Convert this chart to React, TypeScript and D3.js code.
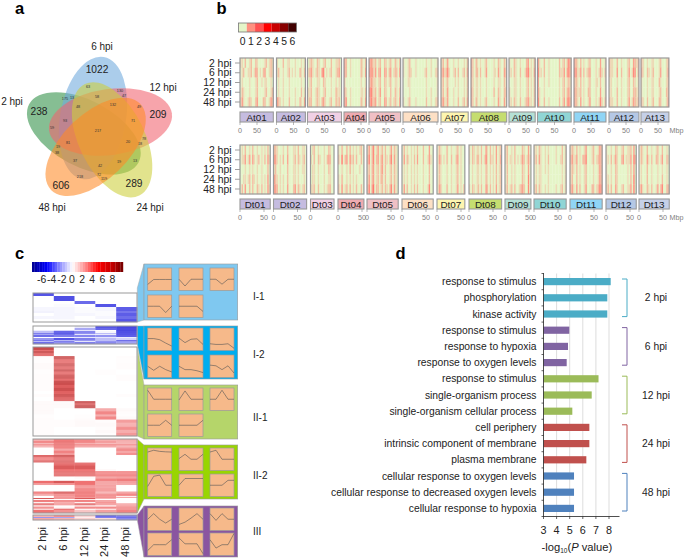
import React from "react";
import * as d3 from "d3";

const FONT = '"Liberation Sans", Arial, sans-serif';
const TXT = "#222";

// ---------- panel a ----------
const vennSets = ["2 hpi", "6 hpi", "12 hpi", "24 hpi", "48 hpi"];
const vennAngles = [-72, 0, 72, 144, 216];
const vennColors = ["#2f8f45", "#6fa9dc", "#f2626f", "#cdcf3a", "#ff8a26"];
const vennSetLabels: [string, number, number][] = [["2 hpi", 12, 105], ["6 hpi", 102, 50], ["12 hpi", 163, 91], ["24 hpi", 150, 211], ["48 hpi", 52, 211]];
const vennBig: [string, number, number][] = [["1022", 97, 73], ["209", 158, 118], ["238", 39, 115], ["606", 61, 189], ["289", 134, 187]];
const vennSmall: [string, number, number][] = [["63", 88, 87], ["130", 120, 91], ["47", 124, 96], ["58", 97, 97], ["132", 113, 105], ["49", 139, 107], ["175", 65, 99], ["13", 72, 98], ["48", 78, 107], ["93", 65, 121], ["71", 133, 121], ["59", 52, 128], ["217", 98, 131], ["81", 68, 143], ["20", 128, 142], ["78", 144, 139], ["18", 140, 144], ["19", 58, 147], ["38", 57, 153], ["37", 75, 161], ["13", 135, 161], ["19", 119, 162], ["42", 100, 166], ["72", 99, 175], ["119", 104, 179], ["218", 80, 177]];

// ---------- panel b ----------
const hpiRows = ["2 hpi", "6 hpi", "12 hpi", "24 hpi", "48 hpi"];
const densityLegend = [0, 1, 2, 3, 4, 5, 6];
const densityColors = ["#e5f5c8", "#ff9080", "#ff5050", "#ff0000", "#c80000", "#880000", "#400000"];
const chrColors = ["#c5bce0", "#c5bce0", "#f0d0e5", "#eeaab0", "#f0c0c5", "#fde0c5", "#fdf5b0", "#c5dd70", "#b5e0d5", "#90d5d5", "#90d5f5", "#b5c8e5", "#c5d0e8"];
const atNames = ["At01", "At02", "At03", "At04", "At05", "At06", "At07", "At08", "At09", "At10", "At11", "At12", "At13"];
const dtNames = ["Dt01", "Dt02", "Dt03", "Dt04", "Dt05", "Dt06", "Dt07", "Dt08", "Dt09", "Dt10", "Dt11", "Dt12", "Dt13"];
const atLengths = [98, 85, 100, 66, 93, 103, 80, 105, 77, 99, 94, 88, 82];
const dtLengths = [63, 69, 49, 54, 65, 65, 58, 68, 54, 67, 67, 63, 63];
const atStarts = [240, 276.5, 307.5, 344, 369, 403, 441, 471, 509, 537.5, 574, 609, 641];
const dtStarts = [240, 273.5, 310.5, 338, 367, 402, 437, 469, 505, 534, 570, 606, 639];
const atDensity: string[][] = [
  ["1102001200210000120121", "0120011201320102300121", "0100001000120010110010", "0210001000120000120012", "1310012100230002200132"],
  ["1000200110001000101", "1200100120101002102", "0100100010000000100", "0100100010001000201", "3210100020001002103"],
  ["0121002100120002001120", "1231012103401012001230", "0120001100210001001010", "1120012100120001002110", "1220012102310012002120"],
  ["320010000002102", "320010000002103", "200000000001001", "310010000001102", "330010000002103"],
  ["332120120021012002102", "433130230032023012203", "232110120021012001101", "442120130021002002102", "342230120032012012103"],
  ["10012000100000010010001", "10012100100000120010012", "00011000000000010000001", "00001000000000010010001", "10012000100000020010012"],
  ["120130001001000102", "231241001202001203", "120120000101000102", "120130001001000102", "231130001002001203"],
  ["310210100120000100210021", "310220200130000110310032", "210110100010000100110021", "310110100010000200210022", "310210100120000100310031"],
  ["10021001000230102", "11021002001341103", "00011001000120102", "10011001000120102", "11021002001231102"],
  ["3100200100000020120242", "4110200100000021130342", "3000100100000010120121", "3100100000000010120231", "4100200100000020130342"],
  ["321020100120001003001", "431130201230001013102", "221020100120001102001", "321120100220001003001", "321030100130001014102"],
  ["21100200100012003212", "21100300200013014302", "11000100100012002101", "11000200100012002211", "21100200100013013212"],
  ["2100100110001200012", "3100210120001300013", "1000100110002100012", "1000100110001200022", "2100200120002200013"],
];
const dtDensity: string[][] = [
  ["01020010200100101020", "01130130310120102031", "00010010100100100020", "00110120210100101030", "02030020200210201031"],
  ["2210001002000110200110", "3310102003000120210120", "1200100002000110100110", "3210101002000110100010", "3320101003000230210120"],
  ["0120010001002100", "1020021001023200", "0110010001002100", "0110010001001100", "1120020001012200"],
  ["1020020201010120", "2040230312020020", "0010010201000100", "1020010101010000", "2030120201020020"],
  ["130240130120200130210", "240240230230210240310", "120230120230200120210", "130230120220200120210", "240350220120210240310"],
  ["020100101020002000300", "030210102030002001310", "010100101010001000200", "010100101010001000200", "030200102020001001400"],
  ["021000200100120100", "032010200200230100", "021000100100120100", "021000100100120100", "032000200100130102"],
  ["1021011020031020103012", "1021022020141021103013", "0010011010021010102012", "0010011010021010102012", "1021012020032020103012"],
  ["12001020000210030", "12011020101320131", "02001010000210030", "02001010000210040", "12012020012320040"],
  ["110210010100001000201", "120310010200001001201", "010110010100000000101", "010110000100000000101", "120210010100001001201"],
  ["121020100130001200132", "231130102240001201232", "121020100120000100132", "120020100120000100132", "231030200130002201243"],
  ["10010021001200112030", "11020131002301113042", "10010021000000102030", "11010021000000102040", "12020031001200113040"],
  ["02100200100120020010", "02100310200220130021", "01000200100010010010", "01000200100010020010", "13100210200130240022"],
];

// ---------- panel c ----------
const columnLabels = ["2 hpi", "6 hpi", "12 hpi", "24 hpi", "48 hpi"];
const exprTicks = [-6, -4, -2, 0, 2, 4, 6, 8];
type Run = [number, number[]];
const block1: Run[] = [[3, [-4, 0, 0, 0, 0]], [5, [0, -4.2, 0, 0, 0]], [3, [0, 0, -3.5, 0, 0]], [3, [0, -0.1, 0, -4, 0]], [4, [-0.2, -0.2, -0.1, -0.2, -3.8]], [2, [-0.3, -0.2, -0.1, -0.1, -3.2]], [3, [0, -0.2, -0.2, -0.1, -3.8]], [3, [-0.2, -0.2, 0, -0.2, -3.4]], [3, [0, -0.1, 0, 0, -4]]];
const block2: Run[] = [[2, [0, 0, -0.5, -4, -4.6]], [2, [0, 0, -2, -3.6, -4.4]], [1, [-0.4, -1, -0.6, 0, -4.5]], [2, [-1.5, -3.6, -2.8, -0.2, -4.2]], [1, [-3, -3.8, -2.5, -1.5, -4]], [1, [-2, -3.4, -0.6, -0.5, -4]], [2, [-3.4, -3, -2.8, -2.5, -3.8]], [1, [0, -0.2, -0.5, -0.6, -0.4]], [2, [-2.4, -4, -3, -1.5, -1]], [1, [-3.2, -1.6, -2.4, -1.5, -3.4]], [1, [-1.5, -3, -0.6, -2.5, -2.4]], [2, [-3.4, -2.6, -3, -2.8, -2.2]]];
const block3: Run[] = [[3, [6.4, 0, 0, 0, 0]], [1, [5, 0, 0, 0, 0]], [2, [6.2, 0, 0, 0, 0]], [3, [5.2, 0, 0, 0, 0]], [3, [0.1, 6.2, 0, 0, 0.1]], [4, [0.1, 5, 0, 0, 0.1]], [3, [0.2, 6, 0, 0, 0.1]], [3, [0.2, 5.2, 0, 0, 0.1]], [2, [0.1, 6.3, 0, 0.1, 0]], [3, [0.1, 5, 0, 0.1, 0]], [4, [0.1, 6, 0, 0, 0.1]], [2, [0.1, 5, 0, 0, 0.1]], [4, [0.1, 6.2, 0, 0, 0]], [3, [0.1, 5.3, 0, 0, 0]], [3, [0.1, 6, 0, 0, 0]], [3, [0, 5.2, 0, 0, 0]], [3, [0.1, 6, 0, 0, 0.1]], [4, [0, 5.4, 0, 0, 0]], [2, [0.2, 0.2, 6.5, 0, 0]], [2, [0.2, 0.2, 5.5, 0, 0]], [3, [0.2, 0.2, 6.6, 0, 0]], [3, [0.2, 0, 0, 3.4, 0.2]], [3, [0.2, 0, 0, 4.5, 0.1]], [2, [0.1, 0, 0.1, 3.2, 0.1]], [3, [0.1, 0, 0.1, 4.4, 0.2]], [3, [0.1, 0.1, 0.2, 0.1, 3.6]], [4, [0.1, 0.1, 0.2, 0.2, 2.8]], [3, [0.1, 0, 0, 0.1, 3.6]], [3, [0.1, 0, 0, 0.2, 2.8]], [3, [0.1, 0, 0, 0.1, 3.4]]];
const block4: Run[] = [[2, [3, 4.4, 4, 3, 3]], [2, [4.2, 4.8, 4.2, 3.6, 3]], [1, [2.6, 4.6, 3, 2.6, 3]], [1, [4.4, 5, 4.4, 4.4, 4.2]], [2, [3, 4.6, 3.4, 3.4, 3]], [1, [0, 4.4, 0, 0, 3.6]], [2, [0, 3.2, 0, 0, 4]], [2, [0, 4, 0, 0, 3]], [2, [0, 3.4, 0, 0, 3.6]], [2, [5.4, 5.8, 0, 0, 0]], [3, [4.2, 5, 0, 0, 0]], [2, [5.4, 5.4, 0, 0, 0]], [3, [0, 5, 5, 0, 0]], [3, [0, 5.4, 5.4, 0, 0]], [2, [0, 4.6, 4.6, 0.2, 0]], [3, [0, 5, 5, 4, 4]], [2, [0, 5.2, 5, 4.4, 4.4]], [2, [0, 0, 0.2, 3.4, 3.6]], [2, [0, 0, 0, 4.2, 4.4]], [2, [4.6, 5.6, 4.4, 3, 3.2]], [2, [3.4, 3.6, 4.4, 3, 3]], [3, [0, 0, 3.6, 3.4, 0]], [3, [0, 0, 4.4, 3.8, 0]], [2, [4.4, 5.6, 4.6, 2.8, 3.4]], [2, [3, 3.6, 4, 3.6, 4]], [1, [0, 3.2, 4, 3.4, 0.4]], [1, [0, 3.4, 3.4, 3.6, 3]], [1, [5.6, 3.4, 5.4, 2.6, 0]], [1, [0, 0, 0.6, 0, 0]], [2, [4.6, 4, 4.4, 3.4, 0]], [1, [0, 3, 0, 4, 0]], [2, [5, 3.6, 5.2, 3.6, 3.2]], [1, [0, 0, 0, 0, 3.4]], [2, [4, 0.4, 4.2, 4.2, 3.8]], [1, [0.6, 5, 0, 0.4, 3.4]], [3, [4.4, 3.6, 2, 3.2, 4]]];
const block5: Run[] = [[2, [2.6, 3.6, 1.4, -3.4, -3]], [1, [-2.4, -2, 0.6, -3, -3.4]], [2, [3, 2.6, 1.6, 1.2, -2.8]]];
const heatBlocks: { runs: Run[]; y0: number; y1: number }[] = [
  { runs: block1, y0: 293, y1: 322 }, { runs: block2, y0: 326, y1: 344 }, { runs: block3, y0: 347, y1: 436 }, { runs: block4, y0: 439, y1: 513 }, { runs: block5, y0: 515, y1: 520 },
];

const clusterNames = ["I-1", "I-2", "II-1", "II-2", "III"];
const clusterFills = ["#7fc8f0", "#00adef", "#b5d56a", "#99d500", "#8a55a0"];
const profiles: number[][][] = [
  [[.27, .49, .49, .49, .49], [.5, .2, .5, .5, .5], [.5, .5, .28, .5, .5], [.5, .5, .5, .22, .5], [.5, .5, .5, .5, .27]],
  [[.53, .53, .48, .33, .2], [.55, .35, .5, .52, .27], [.3, .27, .27, .3, .1], [.5, .32, .5, .35, .25], [.5, .35, .35, .3, .22], [.55, .52, .35, .52, .2]],
  [[.9, .5, .5, .5, .5], [.47, .87, .5, .5, .5], [.5, .5, .9, .5, .5], [.5, .5, .5, .72, .5], [.5, .5, .5, .5, .72]],
  [[.82, .9, .85, .83, .82], [.53, .72, .5, .5, .72], [.82, .9, .5, .5, .5], [.45, .9, .95, .5, .5], [.5, .8, .8, .8, .8], [.5, .5, .5, .72, .72]],
  [[.5, .75, .5, .33, .5], [.27, .37, .55, .75, .5], [.75, .45, .75, .5, .5], [.22, .48, .48, .48, .7], [.78, .52, .52, .52, .08], [.7, .33, .48, .48, .98]],
];
const clusterLayout = [
  { y0: 264, y1: 320, rows: [268, 295], labelY: 300, poly: [[137.3, 288], [144, 264], [144, 320], [137.3, 322]] },
  { y0: 326, y1: 379, rows: [328, 355], labelY: 358, poly: [[137.3, 326], [144, 326], [144, 379], [137.3, 344]] },
  { y0: 385, y1: 439, rows: [388, 414], labelY: 421, poly: [[137.3, 347], [144, 385], [144, 439], [137.3, 436]] },
  { y0: 445, y1: 499, rows: [448, 474], labelY: 479, poly: [[137.3, 439], [144, 445], [144, 499], [137.3, 513]] },
  { y0: 506, y1: 557, rows: [508, 533], labelY: 535, poly: [[137.3, 515], [144, 506], [144, 557], [137.3, 520]] },
];
const miniCols = [147.7, 179, 210];

// ---------- panel d ----------
const goTerms = ["response to stimulus", "phosphorylation", "kinase activity", "response to stimulus", "response to hypoxia", "response to oxygen levels", "response to stimulus", "single-organism process", "single-organism cellular process", "cell periphery", "intrinsic component of membrane", "plasma membrane", "cellular response to oxygen levels", "cellular response to decreased oxygen levels", "cellular response to hypoxia"];
const goValues = [8.13, 7.87, 7.87, 4.97, 4.87, 4.77, 7.2, 6.68, 5.2, 6.5, 6.5, 6.27, 5.33, 5.33, 5.33];
const goGroups = ["2 hpi", "6 hpi", "12 hpi", "24 hpi", "48 hpi"];
const goColors = ["#4bacc6", "#8064a2", "#9bbb59", "#c0504d", "#4f81bd"];
const goTicks = [3, 4, 5, 6, 7, 8];

const densityScale = d3.scaleLinear<string>().domain(densityLegend).range(densityColors);
const exprScale = d3.scaleLinear<string>().domain([-8, -5, -2.5, 0, 2.5, 5, 8, 9.8]).range(["#00008c", "#0000ff", "#8c8cff", "#ffffff", "#ff8c8c", "#ff0000", "#c00000", "#7a0000"]).clamp(true);
const cellScale = d3.scaleLinear<string>().domain([-5, -4, -2, 0, 3, 4.5, 6, 7]).range(["#3c3cdc", "#5555e6", "#a8a8f4", "#ffffff", "#f5a8a8", "#ef6f6f", "#ce5050", "#bc3c3c"]).clamp(true);

function ChromosomeRow({ names, lengths, starts, density, top }: { names: string[]; lengths: number[]; starts: number[]; density: string[][]; top: number }) {
  const pxPerMb = lengths === atLengths ? 0.34 : 0.48;
  const h = 49;
  const rowBand = d3.scaleBand<number>().domain([0, 1, 2, 3, 4]).range([top, top + h]);
  const rowTicks = d3.scalePoint<string>().domain(hpiRows).range([top + 5, top + 44]);
  return (
    <g>
      {hpiRows.map((r) => (
        <g key={r}>
          <line x1={235} x2={240} y1={rowTicks(r)} y2={rowTicks(r)} stroke="#777" strokeWidth={0.7} />
          <text x={231.5} y={rowTicks(r)! + 3.7} textAnchor="end" fontSize={10.4} fill={TXT}>{r}</text>
        </g>
      ))}
      {names.map((n, i) => {
        const x0 = starts[i];
        const x = d3.scaleLinear().domain([0, lengths[i]]).range([x0, x0 + lengths[i] * pxPerMb]);
        const x1 = x(lengths[i]);
        const ticks = [0, 50, 100].filter((t) => t <= lengths[i]);
        return (
          <g key={n}>
            {density[i].map((row, r) => {
              const band = d3.scaleBand<number>().domain(d3.range(row.length)).range([x0, x1]);
              return row.split("").map((c, k) => (
                <rect key={r + "-" + k} x={band(k)} y={rowBand(r)} width={band.bandwidth() + 0.2} height={rowBand.bandwidth() + 0.2} fill={densityScale(+c * 0.27)} />
              ));
            })}
            <rect x={x0} y={top} width={x1 - x0} height={h} fill="none" stroke="#999" strokeWidth={1.2} />
            <rect x={x0} y={top + 54} width={x1 - x0} height={10} fill={chrColors[i]} stroke="#999" strokeWidth={1.1} />
            <text x={(x0 + x1) / 2} y={top + 62.8} textAnchor="middle" fontSize={9.9} fill={TXT}>{n}</text>
            {ticks.map((t) => (
              <g key={t}>
                <line x1={x(t)} x2={x(t)} y1={top + 64} y2={top + 67} stroke="#888" strokeWidth={0.6} />
                {t < 100 && <text x={x(t)} y={top + 75.3} textAnchor="middle" fontSize={7.2} fill="#808080">{t}</text>}
              </g>
            ))}
          </g>
        );
      })}
      <text x={669.5} y={top + 75.3} fontSize={7.2} fill="#808080">Mbp</text>
    </g>
  );
}

export default function App() {
  const vennC = [99, 132];
  const colBand = d3.scaleBand<string>().domain(columnLabels).range([33, 137]);
  const exprX = d3.scaleLinear().domain([-8, 9.8]).range([32, 122]);
  const exprSteps = d3.range(-8, 9.8, 0.5);
  const goX = d3.scaleLinear().domain([3, 8]).range([543.5, 609]);
  const goY = d3.scaleBand<number>().domain(d3.range(goTerms.length)).range([273.5, 516.5]);
  const legendBand = d3.scaleBand<number>().domain(densityLegend).range([238.5, 296.5]);
  return (
    <svg width={685} height={559} viewBox="0 0 685 559" style={{ position: "absolute", left: 0, top: 0, display: "block", background: "#fff" }} fontFamily={FONT}>
      {/* panel letters */}
      {([["a", 15, 13.5], ["b", 216.5, 13.5], ["c", 15, 258.5], ["d", 395.5, 259]] as [string, number, number][]).map(([t, x, y]) => (
        <text key={t} x={x} y={y} fontSize={16.5} fontWeight="bold" fill="#000">{t}</text>
      ))}

      {/* a: Venn */}
      <g>
        {vennSets.map((s, i) => (
          <ellipse key={s} cx={-6} cy={-14} rx={33} ry={62} fill={vennColors[i]} fillOpacity={0.58} transform={`translate(${vennC[0]},${vennC[1]}) rotate(${vennAngles[i]}) rotate(10,-6,-14)`} />
        ))}
        {vennSetLabels.map(([t, x, y]) => <text key={t} x={x} y={y} textAnchor="middle" fontSize={10} fill={TXT}>{t}</text>)}
        {vennBig.map(([t, x, y]) => <text key={t} x={x} y={y} textAnchor="middle" fontSize={10.2} fill="#222">{t}</text>)}
        {vennSmall.map(([t, x, y], i) => <text key={i} x={x} y={y + 1.2} textAnchor="middle" fontSize={3.8} fill="#333">{t}</text>)}
      </g>

      {/* b: legend and chromosomes */}
      <g>
        {densityLegend.map((v) => (
          <g key={v}>
            <rect x={legendBand(v)} y={23} width={legendBand.bandwidth()} height={9} fill={densityScale(v)} />
            <text x={legendBand(v)! + legendBand.bandwidth() / 2} y={44.5} textAnchor="middle" fontSize={10.4} fill={TXT}>{v}</text>
          </g>
        ))}
        <rect x={238.5} y={23} width={58} height={9} fill="none" stroke="#777" strokeWidth={0.8} />
        <ChromosomeRow names={atNames} lengths={atLengths} starts={atStarts} density={atDensity} top={58} />
        <ChromosomeRow names={dtNames} lengths={dtLengths} starts={dtStarts} density={dtDensity} top={145} />
      </g>

      {/* c: colour bar */}
      <g>
        {exprSteps.map((v) => (
          <rect key={v} x={exprX(v)} y={262} width={exprX(v + 0.5) - exprX(v) + 0.2} height={10} fill={exprScale(v + 0.25)} />
        ))}
        {exprTicks.map((t) => <text key={t} x={exprX(t) - 0.5} y={283} textAnchor="middle" fontSize={10.4} fill={TXT}>{t}</text>)}
      </g>

      {/* c: cluster panels (behind the heat blocks) */}
      {clusterNames.map((name, ci) => {
        const L = clusterLayout[ci];
        return (
          <g key={name}>
            <polygon points={L.poly.map((p) => p.join(",")).join(" ")} fill={clusterFills[ci]} stroke="#aaa" strokeWidth={0.5} />
            <rect x={144} y={L.y0} width={93.7} height={L.y1 - L.y0} fill={clusterFills[ci]} stroke="#999" strokeWidth={0.6} />
            {profiles[ci].map((p, pi) => {
              const col = pi % 3;
              const row = Math.floor(pi / 3);
              const x0 = miniCols[col];
              const y0 = L.rows[row];
              const mx = d3.scaleLinear().domain([0, 4]).range([x0, x0 + 24]);
              const my = d3.scaleLinear().domain([0, 1]).range([y0 + 22.5, y0]);
              const line = d3.line<number>().x((_, k) => mx(k)).y((d) => my(d));
              return (
                <g key={pi}>
                  <rect x={x0} y={y0} width={24} height={22.5} fill="#f6b98a" stroke="#9a9a9a" strokeWidth={0.7} />
                  <path d={line(p)!} fill="none" stroke="#555" strokeWidth={0.6} />
                </g>
              );
            })}
            <text x={253} y={L.labelY} fontSize={10} fill={TXT}>{name}</text>
          </g>
        );
      })}

      {/* c: heat blocks */}
      {heatBlocks.map((b, bi) => {
        const rows = b.runs.flatMap(([n, v]) => d3.range(n).map(() => v));
        const rowY = d3.scaleBand<number>().domain(d3.range(rows.length)).range([b.y0, b.y1]);
        return (
          <g key={bi}>
            <rect x={33} y={b.y0} width={104} height={b.y1 - b.y0} fill="#fff" />
            {rows.map((vals, r) => vals.map((v, c) => (
              <rect key={r + "-" + c} x={colBand(columnLabels[c])} y={rowY(r)} width={colBand.bandwidth() + 0.2} height={rowY.bandwidth() + 0.15} fill={cellScale(v)} />
            )))}
            <rect x={33} y={b.y0} width={104} height={b.y1 - b.y0} fill="none" stroke="#999" strokeWidth={1} />
          </g>
        );
      })}
      {columnLabels.map((c) => {
        const x = colBand(c)! + colBand.bandwidth() / 2 + 2.5;
        return <text key={c} transform={`translate(${x},527) rotate(-90)`} textAnchor="end" fontSize={11} fill={TXT}>{c}</text>;
      })}

      {/* d: bars */}
      <g>
        {goTicks.slice(1).map((t) => <line key={t} x1={goX(t)} x2={goX(t)} y1={273.5} y2={516.5} stroke="#d9d9d9" strokeWidth={0.9} />)}
        {goValues.map((v, i) => (
          <rect key={i} x={goX(3)} y={goY(i)! + goY.bandwidth() / 2 - 3.6} width={goX(v) - goX(3)} height={7.2} fill={goColors[Math.floor(i / 3)]} />
        ))}
        {goTerms.map((t, i) => (
          <text key={i} x={536.5} y={goY(i)! + goY.bandwidth() / 2 + 3.5} textAnchor="end" fontSize={10.3} fill={TXT}>{t}</text>
        ))}
        <line x1={543.5} x2={543.5} y1={273} y2={517} stroke="#222" strokeWidth={0.8} />
        <line x1={543.5} x2={619.5} y1={516.5} y2={516.5} stroke="#222" strokeWidth={0.8} />
        {d3.range(goTerms.length + 1).map((i) => (
          <line key={i} x1={541.5} x2={543.5} y1={273.5 + goY.step() * i} y2={273.5 + goY.step() * i} stroke="#222" strokeWidth={0.7} />
        ))}
        {goTicks.map((t) => (
          <g key={t}>
            <line x1={goX(t)} x2={goX(t)} y1={516.5} y2={519} stroke="#222" strokeWidth={0.7} />
            <text x={goX(t)} y={534} textAnchor="middle" fontSize={10.8} fill={TXT}>{t}</text>
          </g>
        ))}
        <text x={541.5} y={551} fontSize={11.2} fill={TXT}>
          -log<tspan fontSize={6.5} dy={2}>10</tspan><tspan dy={-2}>(</tspan><tspan fontStyle="italic">P</tspan> value)
        </text>
        {goGroups.map((g, i) => {
          const top = goY(i * 3)! + 5.5;
          const bot = goY(i * 3 + 2)! + goY.bandwidth() - 5.5;
          return (
            <g key={g}>
              <path d={`M622,${top} H627 V${bot} H622`} fill="none" stroke={goColors[i]} strokeWidth={1} />
              <text x={656} y={(top + bot) / 2 + 3.5} textAnchor="middle" fontSize={10.3} fill={TXT}>{g}</text>
            </g>
          );
        })}
      </g>
    </svg>
  );
}
